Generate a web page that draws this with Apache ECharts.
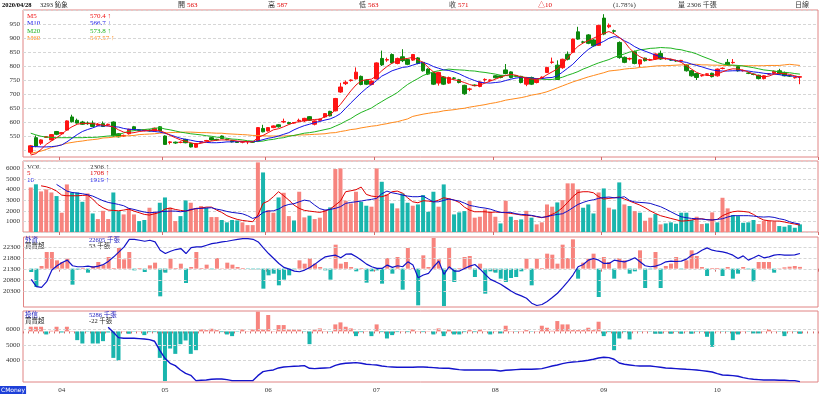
<!DOCTYPE html>
<html><head><meta charset="utf-8">
<script src="https://cdn.jsdelivr.net/npm/echarts@6/dist/echarts.min.js"></script>
<style>html,body{margin:0;padding:0;background:#fff}#c{width:820px;height:398px}</style>
</head><body><div id="c"></div>
<script>
// ---- categories / month ticks ----
const SLOTS = 154, LEAD = 1;
const monthTicks = [[7,'04'],[27,'05'],[47,'06'],[68,'07'],[91,'08'],[112,'09'],[134,'10']];

// ---- price (OHLC) ----
const open = [492,544,524,545,536,566,558,571,618,606, 600,596,596,588,594,590,600,558,550,558, 583,572,570,571,568,583,550,527,528,527, 538,523,510,528,532,544,538,550,538,533, 530,528,529,529,532,577,568,580,590,600, 598,596,604,604,619,592,606,618,638,640, 707,737,748,754,763,749,734,754,827,821, 841,809,833,823,821,829,813,789,775,739, 761,739,757,751,731,717,732,727,751,749, 765,765,786,779,765,763,735,759,741,758, 777,813,803,794,842,849,922,886,911,893, 874,971,940,926,884,831,825,851,807,828, 822,825,845,826,822,819,819,803,783,773, 765,770,774,765,791,813,812,798,783,775, 771,767,755,771,774,783,777,765,758,760];
const close = [515,514,536,548,555,556,562,604,601,596, 592,594,584,592,584,592,550,547,552,574, 574,570,572,568,578,568,520,529,525,528, 526,511,523,530,534,536,536,541,537,529, 527,529,530,528,580,565,580,586,583,602, 594,598,606,613,606,604,610,630,622,684, 725,742,750,778,734,735,746,811,804,823, 811,827,819,806,841,809,783,771,735,777, 735,759,756,741,701,718,730,743,752,750, 758,759,773,759,764,741,759,735,753,760, 795,814,752,824,824,896,896,885,881,872, 945,914,945,924,830,813,827,809,822,819, 823,843,825,827,821,818,820,783,765,759, 766,772,762,789,792,803,813,783,784,774, 770,755,765,772,781,771,765,764,759,762];
const low = [485,510,518,543,534,553,556,569,598,594, 590,590,582,585,582,586,548,545,547,555, 572,568,567,566,566,566,518,520,522,524, 524,509,508,526,530,534,533,540,535,527, 525,524,521,526,530,563,566,578,580,596, 592,594,600,600,604,588,604,615,620,638, 704,732,744,752,731,732,731,752,800,815, 808,806,814,803,818,806,780,768,732,730, 732,736,752,738,697,710,728,724,744,746, 755,756,770,756,760,738,728,732,738,755, 775,808,750,790,820,846,893,880,878,869, 872,910,935,918,826,810,820,806,796,816, 818,822,822,822,818,815,816,780,762,750, 762,767,759,762,788,800,808,780,780,771, 767,752,752,768,771,769,763,761,755,735];
const high = [518,552,538,550,557,568,564,606,626,612, 604,602,605,596,602,594,602,560,555,576, 586,575,574,574,580,585,552,532,530,531, 540,526,525,532,536,547,540,552,541,535, 532,531,532,531,582,590,582,588,592,612, 601,600,612,615,621,606,612,632,640,686, 740,748,752,795,766,752,749,813,855,830, 845,830,860,826,843,832,815,792,778,779, 764,762,760,754,733,722,734,745,756,752, 767,767,807,781,767,765,761,762,755,763, 797,830,820,826,852,898,940,890,914,896, 947,985,952,930,888,834,830,855,824,830, 826,845,855,830,826,822,822,806,786,775, 768,774,776,791,795,825,825,800,787,778, 773,769,767,775,784,790,780,768,761,763];

// ---- price moving averages ----
const ma5 = [482,487,502,520,532,544,556,572,583,592, 595,595,594,592,589,586,583,572,564,560, 562,566,568,570,572,569,562,552,544,536, 531,526,521,524,529,532,535,536,536,535, 532,531,530,529,544,552,562,572,576,583, 591,598,601,605,607,609,610,619,626,643, 663,687,711,732,747,751,753,765,783,798, 810,819,825,827,831,822,813,795,779,769, 760,755,751,747,741,734,729,732,739,746, 753,760,766,770,767,761,758,753,753,757, 769,779,789,808,827,852,870,882,891,899, 908,917,923,915,902,887,863,846,833,825, 820,824,828,827,825,820,813,801,789,777, 770,766,766,771,779,786,790,789,785,779, 771,765,761,764,771,774,773,770,765,760];
const ma10 = [512,512,511,511,512,514,518,529,542,555, 566,573,579,586,586,586,583,582,577,574, 573,572,569,568,566,564,560,554,548,542, 538,535,531,529,527,526,526,527,529,529, 530,530,530,530,532,537,542,545,550,556, 562,572,580,587,592,598,602,607,611,619, 630,649,668,686,704,720,734,748,764,773, 783,789,795,797,803,809,813,807,798,792, 786,784,779,772,763,755,748,742,740,739, 741,743,748,753,757,759,758,757,755,755, 758,759,765,778,792,806,825,843,859,871, 880,888,899,905,902,890,881,869,860,853, 846,839,833,827,822,820,816,813,807,802, 797,791,786,783,782,782,783,783,783,782, 779,777,774,772,771,769,766,765,763,759];
const ma20 = [560,554,549,546,545,544,544,544,544,544, 544,545,545,546,548,550,551,555,561,567, 569,572,573,575,577,580,575,572,568,564, 561,558,556,554,551,549,546,544,542,539, 538,536,533,532,530,532,536,538,542,544, 549,552,556,560,562,565,569,573,577,585, 593,603,612,624,634,642,650,662,673,684, 694,705,720,734,745,755,766,773,779,783, 786,789,787,786,785,783,782,779,777,774, 771,767,766,765,763,761,759,757,754,753, 752,752,755,760,767,773,780,789,796,804, 811,817,823,831,837,843,850,853,858,860, 863,864,866,865,864,860,858,853,849,843, 835,828,821,813,807,804,803,802,800,797, 794,790,786,784,782,779,777,776,773,771];
const ma60 = [488,492,496,502,509,514,519,524,527,530, 532,535,537,539,543,544,546,548,550,551, 552,555,556,557,558,560,561,562,563,563, 564,564,563,562,562,561,560,560,558,557, 556,555,554,552,552,551,550,550,550,550, 551,552,554,554,555,556,557,558,561,562, 566,569,573,575,579,582,585,587,591,594, 598,601,606,611,620,624,628,631,634,636, 640,642,644,647,649,653,656,659,662,666, 669,673,678,681,684,687,691,696,699,703, 708,715,722,729,736,743,749,755,761,766, 771,776,782,784,786,789,791,792,795,796, 798,800,801,801,802,803,804,804,806,806, 804,804,803,803,802,802,802,801,801,801, 801,801,801,802,802,802,804,806,804,802];

// ---- volume ----
const vol = [4200,4500,3830,4020,3730,3390,1820,4490,3730,3730, 2850,3640,1750,1220,2000,1220,3730,1970,1660,2230, 1660,1030,1130,2290,1910,2760,3260,2290,1030,1500, 2980,2760,2230,2450,2290,1410,1410,1130,910,1130, 1090,910,650,650,6570,5620,2070,1820,3260,3700, 1500,1090,3800,1380,1540,1220,1350,2070,2320,5940, 6000,2950,2700,3800,2850,2480,2390,6000,4740,3550, 2700,2230,3640,2760,2480,2600,3480,1910,3800,2390, 4490,3170,1660,1850,1970,2920,1350,1440,2130,1910, 1440,810,2950,1440,1130,1190,2000,1350,720,910, 2600,2390,2790,3010,4590,4590,4020,2290,2600,1750, 3730,4110,2290,2130,4680,2600,2450,1970,1820,1060, 1350,1690,720,810,910,780,1820,1820,1130,1440, 750,810,1850,910,3230,2230,1600,1500,870,910, 1130,750,1060,1060,970,560,500,650,400,720];
const volDir = ('RTRRRTRRTT'+'TRTRRRTTRR'+'RTTRRTTRRT'+'TRRRTRRTTT'+'TRRRRTRRTR'+'RTRRTRRRTR'+'RRRRTTRRTR'+'TRTTRTTTTR'+'TRTTTRRRRR'+'RTRTRTRTRR'+'RRTRRRRTTT'+'RTRTTRTRTR'+'RTRTTTTTTR'+'RTRTRRTTTT'+'TRRRRTTTTT').split('');
const vma5 = [null,null,4360,4270,4110,3860,3480,3420,3420,3420, 3450,3480,3110,2600,2290,2070,2040,2000,2070,2160, 1970,1820,1660,1600,1720,1850,2160,2260,2130,2040, 1970,2070,2230,2260,2350,2350,2070,1850,1540,1350, 1190,1090,1030,970,1600,2700,2920,3330,3800,3420, 3010,2540,2230,2040,1970,1910,1850,1970,2160,2540, 2920,3800,3890,3990,4240,3550,3390,3330,3330,3480, 3800,3860,3670,3230,2850,2760,2950,2920,2850,3010, 3230,3140,3010,2790,2350,2070,1910,1910,1910,1850, 1880,1850,1820,1750,1690,1600,1570,1540,1440,1350, 1470,1660,1910,2290,2790,3330,3730,3800,3800,3700, 3330,3110,3170,3230,3300,3110,2920,2730,2540,2290, 2000,1750,1540,1410,1280,1160,1030,1060,1130,1220, 1250,1160,1130,1190,1540,1750,1910,1970,1940,1880, 1660,1350,1130,1060,1030,1030,940,840,750,650];
const vma10 = [null,null,null,null,null,4490,4180,3860,3730,3670, 3610,3520,3390,3170,2950,2790,2700,2600,2480,2230, 2130,2000,1880,1820,1850,1910,1940,1970,1970,1910, 1970,2130,2200,2230,2260,2290,2160,2070,1940,1850, 1790,1720,1540,1280,1440,1850,1970,2000,2160,2450, 2600,2670,2850,3010,2920,2540,2200,2070,2130,2230, 2390,2700,2790,2850,2920,3010,3080,3170,3610,3860, 3700,3610,3480,3390,3330,3330,3390,3110,2850,2850, 2980,3110,3010,2920,2730,2510,2420,2320,2260,2160, 2000,1850,1850,1850,1720,1660,1630,1570,1470,1380, 1440,1570,1660,1720,1970,2290,2600,2790,2950,3040, 3170,3260,3300,3230,3230,3330,2980,2830,2790,2760, 2700,2540,2390,2160,1910,1660,1440,1350,1280,1250, 1220,1160,1130,1190,1250,1410,1540,1540,1540,1540, 1500,1440,1410,1440,1380,1250,1160,970,840,750];

// ---- foreign investors (外資) ----
const foreignHold = [20856,20525,20495,20751,21277,21473,21623,21728,21473,21428, 21428,21458,21413,21458,21533,21683,21879,22104,22330,22676, 22676,22631,22586,22631,22556,22180,22029,22134,22210,22255, 22029,22300,22330,22330,22405,22480,22511,22556,22586,22631, 22676,22706,22706,22676,22556,22285,22029,21804,21578,21398, 21322,21232,21202,21277,21398,21548,21728,21879,21924,21954, 21834,22000,22014,21879,21728,21548,21428,21352,21352,21503, 21398,21473,21428,21653,21503,20931,21052,21127,21428,21683, 21082,21428,21232,21232,21352,21458,21533,21322,21082,20856, 20751,20630,20480,20330,20194,20104,19999,19773,19668,19713, 19849,20029,20225,20480,20751,21052,21428,21533,21728,21804, 21728,21578,21578,21728,21683,21653,21728,21834,21653,21473, 21428,21458,21533,21653,21683,21668,21683,21774,21954,22029, 22180,22285,22180,22134,22104,22044,21954,21804,21924,21728, 21834,21954,21834,21879,21954,21984,21954,21954,21969,22029];
const foreignNet = [-100,-550,80,500,500,250,200,300,-480,-30, 20,-120,80,200,120,350,20,620,280,500, -50,20,-100,100,180,-830,-120,300,20,150, -430,50,500,20,120,-20,320,10,180,120, 50,20,-10,-20,-20,-600,-200,-150,-500,-330, -200,-20,250,150,320,150,50,-50,-330,720, 150,200,50,-80,20,-420,-80,-50,-450,320, -150,350,-630,620,20,-1100,400,50,920,280, -1120,620,-400,20,350,380,-250,150,-750,-80, -120,-300,-400,-280,-250,-80,300,-500,300,20, 450,420,150,720,320,880,-300,180,300,450, -850,350,200,-300,320,250,-150,-80,550,-580, -20,500,-580,80,150,350,-20,250,550,380, 50,-220,20,20,-220,50,-300,-150,50,-20, -380,200,200,200,-120,10,40,60,80,53];

// ---- investment trust (投信) ----
const trustHold = [null,null,null,null,null,null,null,null,null,null, null,null,null,null,null,6129,5806,5462,5419,5419, 5419,5398,5376,5333,5226,4645,4129,3806,3656,3376, 3161,3032,2688,2710,2731,2774,2796,2796,2753,2688, 2688,2688,2688,2688,3011,3269,3333,3376,3505,3570, 3591,3613,3634,3656,3484,3462,3484,3505,3527,3677, 3763,3806,3828,3849,3806,3742,3720,3699,3634,3591, 3570,3548,3548,3548,3548,3570,3570,3548,3527,3505, 3484,3484,3441,3398,3376,3376,3376,3376,3376,3376, 3355,3312,3355,3376,3398,3419,3419,3419,3441,3462, 3548,3634,3699,3785,3849,3892,3914,3957,4000,4065, 4151,4194,4172,4065,3828,3742,3699,3656,3634,3634, 3634,3591,3548,3505,3484,3462,3441,3419,3398,3376, 3333,3290,3247,3140,3054,3032,3011,2968,2882,2817, 2774,2753,2731,2731,2731,2710,2710,2688,2688,2624];
const trustNet = [42,42,42,-27,6,42,-9,42,3,-78, -108,-3,-108,-108,-87,-9,-237,-261,3,-21, -3,3,-33,-6,-6,-237,-444,-153,-201,-114, -81,-201,-168,18,12,24,12,-6,-27,-42, -3,18,3,18,177,18,147,3,57,57, 18,18,18,-3,-114,18,27,3,-3,63, 81,42,27,-42,-6,3,-42,63,-6,-63, -33,-6,3,-6,18,3,-6,3,-27,27, -42,18,-27,-27,-6,12,-6,18,3,-27, 3,-18,51,3,-3,3,12,-3,3,51, 33,6,93,63,63,12,12,12,33,12, 87,-42,-6,-168,-63,-6,-72,3,-3,3, -3,-21,-21,3,-21,-3,-21,3,-21,-3, -3,-48,-138,3,-3,-3,-78,-27,3,-3, -18,-18,3,21,3,-3,-42,3,-3,-21];

// ---- build ----
const UP = '#ff1414', DN = '#0c870c', SAL = '#f7847e', TEAL = '#19b5ad';
const cats = Array.from({length: SLOTS}, (_, i) => 's' + i);
const monthSlot = {}; monthTicks.forEach(([s, l]) => monthSlot[s] = l);
const isMonth = (i) => monthSlot[i] !== undefined;
const pad = (a, e) => Array(LEAD).fill(e).concat(a);
const FONT = '"Liberation Serif","Noto Sans CJK TC",serif';

function xa(gi, bottom) {
  return {
    type: 'category', gridIndex: gi, data: cats, boundaryGap: true,
    axisLine: {show: false},
    axisTick: {show: true, length: bottom ? 2 : 3, interval: bottom ? 0 : isMonth, lineStyle: {color: '#d26a6a'}},
    axisLabel: {show: bottom, interval: isMonth, formatter: (v, i) => monthSlot[i] || '', fontSize: 7, color: '#333', margin: 5, fontFamily: FONT},
    splitLine: {show: false}
  };
}
const T0 = 'rgba(0,0,0,0)', GL = '#d6d6d6';
const yLab = (f) => ({fontSize: 7, color: '#333', margin: 3, fontFamily: FONT, formatter: f});
const grids = [
  {left: 23, right: 2, top: 10, height: 147},
  {left: 23, right: 2, top: 161, height: 71},
  {left: 23, right: 2, top: 237, height: 70},
  {left: 23, right: 2, top: 311, height: 71}
].map(g => Object.assign(g, {show: true, borderColor: '#e08484', borderWidth: 1, backgroundColor: '#fff'}));

const gridMark = (vals) => ({silent: true, symbol: 'none', animation: false, label: {show: false},
  lineStyle: {color: GL, type: [3, 2], width: 1}, data: vals.map(v => ({yAxis: v}))});

const lineS = (name, data, color, xi, yi, w, extra) => Object.assign({
  name, type: 'line', xAxisIndex: xi, yAxisIndex: yi, data: pad(data, null), showSymbol: false, symbol: 'none',
  lineStyle: {color, width: w || 1}, itemStyle: {color}, connectNulls: false, z: 5
}, extra || {});

const txt = (x, y, t, c, font) => ({type: 'text', x, y, silent: true,
  style: {text: t, fill: c, font: font || ('7px ' + FONT), verticalAlign: 'middle'}});
const F7 = '7px ' + FONT;

const option = {
  animation: false,
  backgroundColor: '#fff',
  textStyle: {fontFamily: FONT},
  grid: grids,
  xAxis: [xa(0, false), xa(1, false), xa(2, false), xa(3, true)],
  yAxis: [
    {type: 'value', gridIndex: 0, min: 475, max: 1000, interval: 25, axisLine: {show: false}, axisTick: {show: false},
      axisLabel: yLab(v => (v % 50 === 0 && v >= 550 && v <= 950) ? v : ''),
      splitLine: {show: true, lineStyle: {color: [T0, GL], type: [3, 2], width: 1}}},
    {type: 'value', gridIndex: 1, min: 0, max: 6700, interval: 1000, axisLine: {show: false}, axisTick: {show: false},
      axisLabel: yLab(v => (v >= 1000 && v <= 6000) ? v : ''),
      splitLine: {show: true, lineStyle: {color: GL, type: [3, 2], width: 1}}},
    {type: 'value', gridIndex: 2, min: 19600, max: 22780, interval: 100, axisLine: {show: false}, axisTick: {show: false},
      axisLabel: yLab(v => [20300, 20800, 21300, 21800, 22300].includes(v) ? v : ''), splitLine: {show: false}},
    {type: 'value', gridIndex: 2, min: -1150, max: 950, show: false, splitLine: {show: false}},
    {type: 'value', gridIndex: 3, min: 2600, max: 7180, interval: 100, axisLine: {show: false}, axisTick: {show: false},
      axisLabel: yLab(v => [4000, 5000, 6000].includes(v) ? v : ''), splitLine: {show: false}},
    {type: 'value', gridIndex: 3, min: -453, max: 183, show: false, splitLine: {show: false}}
  ],
  series: [
    {name: 'K', type: 'candlestick', xAxisIndex: 0, yAxisIndex: 0, barWidth: 4,
      data: pad(open.map((o, i) => [o, close[i], low[i], high[i]]), ['-', '-', '-', '-']),
      itemStyle: {color: UP, color0: DN, borderColor: UP, borderColor0: DN, borderWidth: 1}},
    lineS('M60', ma60, '#ff8a1c', 0, 0),
    lineS('M20', ma20, '#1fb41f', 0, 0),
    lineS('M10', ma10, '#1414e6', 0, 0),
    lineS('M5', ma5, '#f01010', 0, 0),
    {name: 'VOL', type: 'bar', xAxisIndex: 1, yAxisIndex: 1, barWidth: 4,
      data: pad(vol.map((v, i) => ({value: v, itemStyle: {color: volDir[i] === 'R' ? SAL : TEAL}})), '-')},
    lineS('V5', vma5, '#e00000', 1, 1),
    lineS('V10', vma10, '#1010c8', 1, 1),
    {name: 'FN', type: 'bar', xAxisIndex: 2, yAxisIndex: 3, barWidth: 4,
      data: pad(foreignNet.map(v => ({value: v, itemStyle: {color: v >= 0 ? SAL : TEAL}})), '-')},
    lineS('外資', foreignHold, '#1212c8', 2, 2, 1.2, {markLine: gridMark([20300, 20800, 21300, 21800, 22300])}),
    {name: 'TN', type: 'bar', xAxisIndex: 3, yAxisIndex: 5, barWidth: 4,
      data: pad(trustNet.map(v => ({value: v, itemStyle: {color: v >= 0 ? SAL : TEAL}})), '-')},
    lineS('投信', trustHold, '#1414cc', 3, 4, 1.4, {markLine: gridMark([4000, 5000, 6000])})
  ],
  graphic: [
    txt(2, 5, '2020/04/28', '#000', 'bold 6.5px ' + FONT),
    txt(40, 5, '3293 鈊象', '#222', '6.5px ' + FONT),
    txt(178, 5, '開', '#333'), txt(187, 5, '563', '#e00000'),
    txt(268, 5, '高', '#333'), txt(277, 5, '587', '#e00000'),
    txt(359, 5, '低', '#333'), txt(368, 5, '563', '#e00000'),
    txt(449, 5, '收', '#333'), txt(458, 5, '571', '#e00000'),
    txt(538, 5, '△10', '#e00000'),
    txt(613, 5, '(1.78%)', '#333'),
    txt(678, 5, '量', '#333'), txt(687, 5, '2306 千張', '#333'),
    txt(795, 5, '日線', '#333'),
    txt(27, 16, 'M5', '#f01010'), txt(90, 16, '570.4 ↑', '#f01010'),
    txt(27, 23.5, 'M10', '#1414e6'), txt(90, 23.5, '566.7 ↓', '#1414e6'),
    txt(27, 31, 'M20', '#1fb41f'), txt(90, 31, '573.8 ↑', '#1fb41f'),
    txt(27, 38.5, 'M60', '#ff8a1c'), txt(90, 38.5, '547.57 ↑', '#ff8a1c'),
    txt(27, 167, 'VOL', '#333'), txt(90, 167, '2306 ↑', '#333'),
    txt(27, 173.5, '5', '#e00000'), txt(90, 173.5, '1708 ↑', '#e00000'),
    txt(27, 180, '10', '#1414e6'), txt(90, 180, '1919 ↑', '#1414e6'),
    txt(25, 240.5, '外資', '#2020c0', '6.5px ' + FONT), txt(89, 240.5, '22605 千張', '#2020c0', '6.5px ' + FONT),
    txt(25, 246.5, '買賣超', '#222', '6.5px ' + FONT), txt(89, 246.5, '53 千張', '#222', '6.5px ' + FONT),
    txt(25, 315.5, '投信', '#2020c0', '6.5px ' + FONT), txt(89, 315.5, '5286 千張', '#2020c0', '6.5px ' + FONT),
    txt(25, 321.5, '買賣超', '#222', '6.5px ' + FONT), txt(89, 321.5, '-22 千張', '#222', '6.5px ' + FONT),
    {type: 'text', x: 0, y: 386, silent: true,
      style: {text: 'CMoney', fill: '#fff', font: '6px "DejaVu Sans",sans-serif', backgroundColor: '#1d3fd8', padding: [1, 1]}}
  ]
};
const chart = echarts.init(document.getElementById('c'), null, {renderer: 'canvas'});
chart.setOption(option);
</script></body></html>
